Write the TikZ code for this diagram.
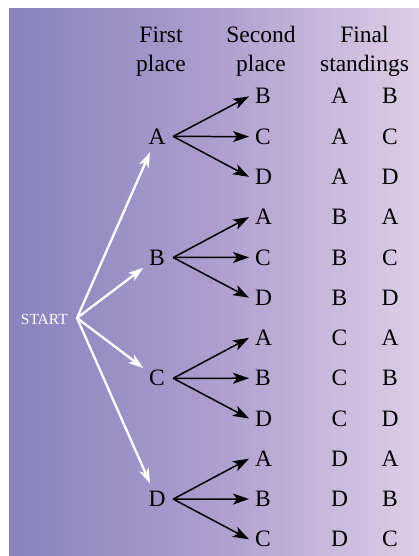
\documentclass[tikz,border=0pt]{standalone}
\usepackage{fontspec}
\setmainfont{Liberation Serif}
\usetikzlibrary{arrows.meta}
\definecolor{bgL}{RGB}{136,130,189}
\definecolor{bgM}{RGB}{172,158,206}
\definecolor{bgR}{RGB}{222,205,230}
\begin{document}
\begin{tikzpicture}[x=1pt,y=-1pt,
  lbl/.style={font=\fontsize{23.5}{23.5}\selectfont, inner sep=0pt},
  first/.style={lbl, circle, minimum size=32pt},
  second/.style={lbl, anchor=base west, inner xsep=6pt},
  blk/.style={black, line width=1.5pt, -{Stealth[length=16pt,width=11pt,inset=4pt]}},
  wht/.style={white, line width=2.3pt, -{Stealth[length=15pt,width=10pt,inset=4pt]}, shorten >=1pt}]
\useasboundingbox (0,0) rectangle (419,556);
\shade[left color=bgL, right color=bgR, middle color=bgM] (9,9) rectangle (419,556);
% headers
\node[lbl, anchor=base] (h1a) at (161,42.5) {First};
\node[lbl, anchor=base] (h1b) at (161,71.5) {place};
\node[lbl, anchor=base] (h2a) at (261,42.5) {Second};
\node[lbl, anchor=base] (h2b) at (261,71.5) {place};
\node[lbl, anchor=base] (h3a) at (364.5,42.5) {Final};
\node[lbl, anchor=base] (h3b) at (364.5,71.5) {standings};
% rows
\foreach \i/\f/\s in {1/A/B,2/A/C,3/A/D,4/B/A,5/B/C,6/B/D,7/C/A,8/C/B,9/C/D,10/D/A,11/D/B,12/D/C}{
  \pgfmathsetmacro\yb{104+(\i-1)*40.27}
  \node[second] (s\i) at (249,\yb) {\s};
  \node[lbl, anchor=base] (fa\i) at (339.5,\yb) {\f};
  \node[lbl, anchor=base] (fb\i) at (390,\yb) {\s};
}
% first level
\node[first] (A) at (157,136.4) {A};
\node[first] (B) at (157,257.5) {B};
\node[first] (C) at (157,378.3) {C};
\node[first] (D) at (157,499.1) {D};
% start
\node[font=\fontsize{15.5}{15.5}\selectfont, text=white, inner sep=0pt, anchor=base east] (start) at (68,324) {START};
\coordinate (o) at (77,318);
\draw[wht] (o) -- (A);
\draw[wht] (o) -- (B);
\draw[wht] (o) -- (C);
\draw[wht] (o) -- (D);
% second level arrows
\draw[blk] (A.east) -- (s1.west);
\draw[blk] (A.east) -- (s2.west);
\draw[blk] (A.east) -- (s3.west);
\draw[blk] (B.east) -- (s4.west);
\draw[blk] (B.east) -- (s5.west);
\draw[blk] (B.east) -- (s6.west);
\draw[blk] (C.east) -- (s7.west);
\draw[blk] (C.east) -- (s8.west);
\draw[blk] (C.east) -- (s9.west);
\draw[blk] (D.east) -- (s10.west);
\draw[blk] (D.east) -- (s11.west);
\draw[blk] (D.east) -- (s12.west);
\end{tikzpicture}
\end{document}
